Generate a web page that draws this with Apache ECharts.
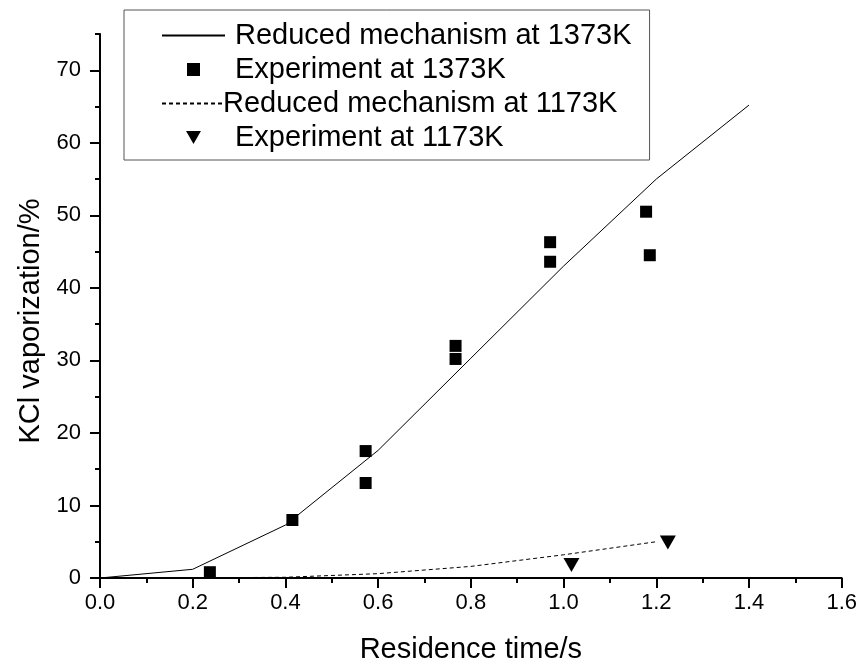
<!DOCTYPE html>
<html>
<head>
<meta charset="utf-8">
<script src="https://cdn.jsdelivr.net/npm/echarts@6/dist/echarts.min.js"></script>
<style>
html,body{margin:0;padding:0;background:#fff;}
#chart{width:860px;height:669px;}
</style>
</head>
<body>
<div id="chart"></div>
<script>
// Data
const seriesNames = ['Reduced mechanism at 1373K', 'Experiment at 1373K', 'Reduced mechanism at 1173K', 'Experiment at 1173K'];
const model1373 = [[0, 0], [0.2, 1.2], [0.4, 7.3], [0.6, 17.6], [0.8, 30.3], [1.0, 43.0], [1.2, 55.0], [1.4, 65.2]];
const exp1373 = [[0.237, 0.8], [0.415, 8.0], [0.573, 17.5], [0.573, 13.1], [0.767, 32.0], [0.767, 30.2], [0.971, 46.3], [0.971, 43.6], [1.178, 50.5], [1.186, 44.5]];
const model1173 = [[0, 0], [0.2, 0.02], [0.4, 0.1], [0.6, 0.6], [0.8, 1.6], [1.0, 3.2], [1.2, 5.0]];
const exp1173 = [[1.017, 1.8], [1.225, 4.9]];
const yMajorTicks = [0, 10, 20, 30, 40, 50, 60, 70];
const yMinorTicks = [5, 15, 25, 35, 45, 55, 65, 75];
const xTitle = 'Residence time/s';
const yTitle = 'KCl vaporization/%';

const FONT = '"Liberation Sans", Arial, sans-serif';
const chart = echarts.init(document.getElementById('chart'), null, {renderer: 'canvas'});

const grid = {left: 100, right: 18, top: 34, bottom: 89};
const hiddenSymbol = {color: 'rgba(0,0,0,0)', borderWidth: 0, borderColor: 'rgba(0,0,0,0)'};

const option = {
  animation: false,
  backgroundColor: '#fff',
  textStyle: {fontFamily: FONT, color: '#000'},
  grid: grid,
  legend: {
    orient: 'vertical',
    left: 124,
    top: 10,
    padding: [11, 18, 8, 37],
    itemWidth: 63,
    itemHeight: 13,
    itemGap: 5,
    symbolKeepAspect: true,
    borderColor: '#555',
    borderWidth: 1,
    borderRadius: 0,
    textStyle: {fontFamily: FONT, fontSize: 29, color: '#000', lineHeight: 29, padding: [0, 0, 0, 5]},
    data: [
      {name: seriesNames[0], itemStyle: hiddenSymbol},
      {name: seriesNames[1], icon: 'path://M0,0 L10,0 L10,10 L0,10 Z'},
      {name: seriesNames[2], itemStyle: hiddenSymbol, textStyle: {padding: [0, 0, 0, -7]}},
      {name: seriesNames[3], icon: 'path://M0,0 L16,0 L8,14 Z'}
    ]
  },
  xAxis: [{
    type: 'value', min: 0, max: 1.6, interval: 0.2,
    name: xTitle, nameLocation: 'middle', nameGap: 57,
    nameTextStyle: {fontFamily: FONT, fontSize: 29, color: '#000'},
    axisLine: {show: true, onZero: false, lineStyle: {color: '#000', width: 2}},
    axisTick: {show: true, inside: false, length: 10, lineStyle: {color: '#000', width: 2}},
    minorTick: {show: true, splitNumber: 2, length: 5, lineStyle: {color: '#000', width: 2}},
    axisLabel: {fontFamily: FONT, fontSize: 22, color: '#000', margin: 14, formatter: v => v.toFixed(1)},
    splitLine: {show: false}, minorSplitLine: {show: false}
  }],
  yAxis: [{
    type: 'value', min: 0, max: 75,
    name: yTitle, nameLocation: 'middle', nameGap: 55,
    nameTextStyle: {fontFamily: FONT, fontSize: 29, color: '#000', padding: [0, 30, 0, 0]},
    axisLine: {show: true, onZero: false, lineStyle: {color: '#000', width: 2}},
    axisTick: {show: true, inside: false, length: 10, customValues: yMajorTicks, lineStyle: {color: '#000', width: 2}},
    axisLabel: {fontFamily: FONT, fontSize: 22, color: '#000', margin: 19, customValues: yMajorTicks},
    splitLine: {show: false}
  }, {
    type: 'value', min: 0, max: 75, position: 'left',
    axisLine: {show: false},
    axisTick: {show: true, inside: false, length: 5, customValues: yMinorTicks, lineStyle: {color: '#000', width: 2}},
    axisLabel: {show: false},
    splitLine: {show: false}
  }],
  series: [
    {
      name: seriesNames[0], type: 'line', data: model1373, symbol: 'none',
      lineStyle: {color: '#000', width: 1, type: 'solid'}, itemStyle: {color: '#000'}, z: 3
    },
    {
      name: seriesNames[1], type: 'scatter', data: exp1373, symbol: 'rect', symbolSize: 12,
      symbolKeepAspect: true,
      itemStyle: {color: '#000', opacity: 1}, z: 4
    },
    {
      name: seriesNames[2], type: 'line', data: model1173, symbol: 'none', smooth: false,
      lineStyle: {color: '#000', width: 1, type: [4, 3]}, itemStyle: {color: '#000'}, z: 3
    },
    {
      name: seriesNames[3], type: 'scatter', data: exp1173, symbol: 'triangle', symbolRotate: 180,
      symbolKeepAspect: true,
      symbolSize: [16, 14], itemStyle: {color: '#000', opacity: 1}, z: 4
    }
  ]
};
chart.setOption(option);
</script>
</body>
</html>
